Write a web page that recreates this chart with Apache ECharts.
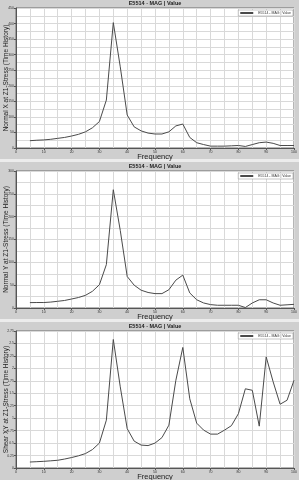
<!DOCTYPE html>
<html><head><meta charset="utf-8">
<script src="https://cdn.jsdelivr.net/npm/echarts@6/dist/echarts.min.js"></script>
<style>html,body{margin:0;padding:0;background:#cfcfcf;}#c{width:299px;height:480px;}</style>
</head><body><div id="c"></div>
<script>
const frequency = [5,7.5,10,12.5,15,17.5,20,22.5,25,27.5,30,32.5,35,37.5,40,42.5,45,47.5,50,52.5,55,57.5,60,62.5,65,67.5,70,72.5,75,77.5,80,82.5,85,87.5,90,92.5,95,97.5,100];
const normalX = [23.5,25,26,28,31,34,38.5,44,52,65,85,154,403,261,106,68,55,48,45,45,52,71,77,34,17,11,6,6,6,7,8,5,11,17,19,15,8,8,8];
const normalY = [11.8,12,12,13,14.7,16.5,19.7,23,27.8,36.6,51,95,259,170,69,50,39,34,31.5,31.5,40,61,72,33,18,11,7.4,6,6,6,6,1,11,18,18,11,6,7,8];
const shearXY = [0.12,0.127,0.134,0.144,0.155,0.18,0.21,0.245,0.29,0.37,0.50,0.96,2.58,1.63,0.79,0.54,0.46,0.45,0.50,0.61,0.86,1.76,2.42,1.39,0.90,0.76,0.68,0.68,0.76,0.85,1.09,1.59,1.56,0.84,2.23,1.73,1.28,1.36,1.76];
const panelTitle = 'E5514 - MAG | Value';
const seriesName = 'E5514 - MAG | Value';
const yNames = ['Normal X at Z1-Stress (Time History)','Normal Y at Z1-Stress (Time History)','Shear XY at Z1-Stress (Time History)'];
const yMax = [450, 300, 2.75];
const yStep = [50, 50, 0.25];
const xName = 'Frequency';

const tops = [8, 171, 331];
const h = [140, 137, 137];
const seriesData = [normalX, normalY, shearXY];
const font = 'Liberation Sans, Arial, sans-serif';
const chart = echarts.init(document.getElementById('c'));

const grids = [], xAxes = [], yAxes = [], series = [], titles = [], legends = [];
for (let i = 0; i < 3; i++) {
  grids.push({left: 16, right: 5, top: tops[i], height: h[i], containLabel: false, outerBoundsMode: 'none',
    show: true, backgroundColor: '#ffffff', borderColor: '#6a6a6a', borderWidth: 1});
  xAxes.push({
    type: 'value', gridIndex: i, min: 0, max: 100, interval: 10,
    name: xName, nameLocation: 'middle', nameGap: 5, nameMoveOverlap: false,
    nameTextStyle: {fontSize: 7.5, color: '#222', fontFamily: font},
    axisLine: {lineStyle: {color: '#555'}}, axisTick: {show: true, length: 2, lineStyle: {color: '#555'}},
    axisLabel: {fontSize: 3.5, color: '#333', margin: 2, fontFamily: font},
    splitLine: {lineStyle: {color: '#d9d9d9', width: 1}},
    minorTick: {show: false, splitNumber: 2},
    minorSplitLine: {show: true, lineStyle: {color: '#d9d9d9', width: 1}}
  });
  yAxes.push({
    type: 'value', gridIndex: i, min: 0, max: yMax[i], interval: yStep[i],
    name: yNames[i], nameLocation: 'middle', nameGap: 6.5, nameRotate: 90, nameMoveOverlap: false,
    nameTextStyle: {fontSize: 6.5, color: '#222', fontFamily: font},
    axisLine: {show: true, lineStyle: {color: '#555'}}, axisTick: {show: true, length: 2, lineStyle: {color: '#555'}},
    axisLabel: {fontSize: 3.5, color: '#333', margin: 2, fontFamily: font},
    splitLine: {lineStyle: {color: '#d9d9d9', width: 1}},
    minorTick: {show: false, splitNumber: 2},
    minorSplitLine: {show: i < 2, lineStyle: {color: '#d9d9d9', width: 1}}
  });
  series.push({
    type: 'line', name: seriesName, xAxisIndex: i, yAxisIndex: i, symbol: 'none',
    data: frequency.map((f, k) => [f, seriesData[i][k]]),
    lineStyle: {color: '#4a4a4a', width: 1}, itemStyle: {color: '#4a4a4a'}
  });
  titles.push({text: panelTitle, left: 155, top: tops[i] - 8, textAlign: 'center', padding: 0,
    textStyle: {fontSize: 5.5, fontWeight: 'bold', color: '#222', fontFamily: font}});
  legends.push({data: [seriesName], right: 6, top: tops[i] + 2, itemWidth: 13, itemHeight: 2, itemGap: 2,
    padding: [1, 2], backgroundColor: '#ffffff', borderColor: '#888', borderWidth: 0.5,
    textStyle: {fontSize: 3.5, color: '#333', fontFamily: font}, selectedMode: false, icon: 'rect'});
}

chart.setOption({
  animation: false,
  backgroundColor: '#cfcfcf',
  graphic: [
    {type: 'rect', shape: {x: 0, y: 159, width: 299, height: 3}, style: {fill: '#ececec'}},
    {type: 'rect', shape: {x: 0, y: 319, width: 299, height: 3}, style: {fill: '#ececec'}}
  ],
  title: titles, legend: legends, grid: grids, xAxis: xAxes, yAxis: yAxes, series: series
});
</script></body></html>
